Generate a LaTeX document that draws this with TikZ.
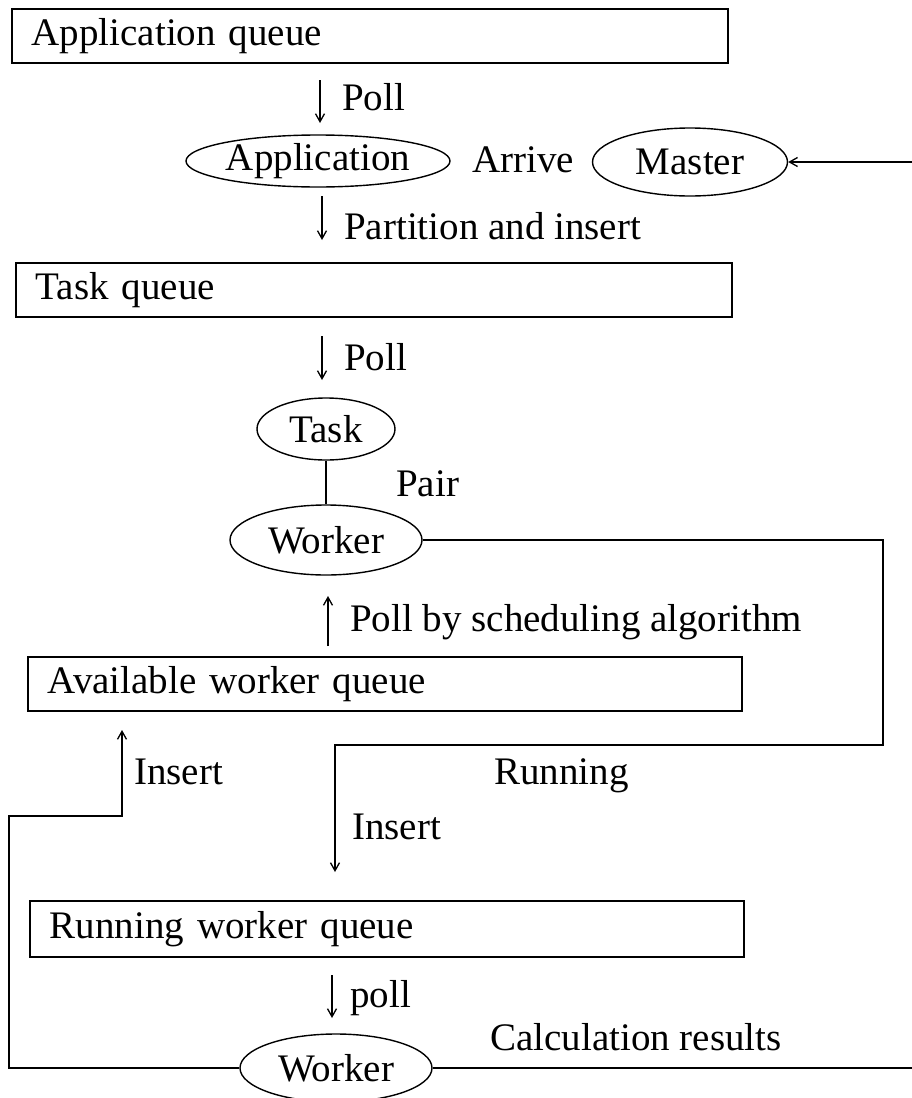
\documentclass[tikz,border=0pt]{standalone}
\usepackage{fontspec}
\setmainfont{Liberation Serif}
\usetikzlibrary{shapes.geometric,arrows.meta}
\begin{document}
\begin{tikzpicture}[x=1pt,y=-1pt,
  font=\fontsize{39}{44}\selectfont,
  queuebox/.style={draw,line width=1.6pt,anchor=north west,minimum height=54pt,
    inner xsep=20pt,inner ysep=0pt,text width=#1,align=left},
  oval/.style={draw,ellipse,line width=1.4pt,inner sep=0pt},
  lbl/.style={inner sep=0pt,anchor=west},
  conn/.style={line width=1.6pt},
  arr/.style={line width=1.3pt,-{Straight Barb[length=8pt,width=9pt]}}]
\useasboundingbox (0,0) rectangle (912,1098);

% queues
\node[queuebox=676pt] (aq) at (11,8) {Application queue};
\node[queuebox=676pt] (tq) at (15,262) {Task queue};
\node[queuebox=674pt] (awq) at (27,656) {Available worker queue};
\node[queuebox=674pt,minimum height=56pt] (rwq) at (29,900) {Running worker queue};

% ovals
\node[oval,minimum width=264pt,minimum height=52pt] (app) at (318,161) {Application};
\node[oval,minimum width=195pt,minimum height=68pt] (master) at (690,162) {Master};
\node[oval,minimum width=138pt,minimum height=62pt] (task) at (326,429) {Task};
\node[oval,minimum width=192pt,minimum height=70pt] (w1) at (326,540) {Worker};
\node[oval,minimum width=192pt,minimum height=68pt] (w2) at (336,1068) {Worker};

% free labels
\node[lbl] (arrive) at (472,160) {Arrive};
\node[lbl] (pair) at (396,484) {Pair};
\node[lbl] (running) at (494,776) {Running};
\node[lbl] (calc) at (490,1037) {Calculation results};

% short arrows with labels
\coordinate (a1s) at (320,80); \coordinate (a1e) at (320,123);
\draw[arr] (a1s) -- (a1e);
\node[lbl] (l1) at (342,97) {Poll};

\coordinate (a2s) at (322,196); \coordinate (a2e) at (322,240);
\draw[arr] (a2s) -- (a2e);
\node[lbl] (l2) at (344,226) {Partition and insert};

\coordinate (a3s) at (322,336); \coordinate (a3e) at (322,380);
\draw[arr] (a3s) -- (a3e);
\node[lbl] (l3) at (344,357) {Poll};

\draw[conn] (task.south) -- (task.south |- w1.north);

\coordinate (a4s) at (328,646); \coordinate (a4e) at (328,596);
\draw[arr] (a4s) -- (a4e);
\node[lbl] (l4) at (350,622) {Poll by scheduling algorithm};

\coordinate (a5s) at (332,975); \coordinate (a5e) at (332,1018);
\draw[arr] (a5s) -- (a5e);
\node[lbl] (l5) at (350,998) {poll};

% running loop
\coordinate (r1) at (883,540);
\coordinate (r2) at (883,745);
\coordinate (r3) at (335,745);
\coordinate (r4) at (335,872);
\draw[conn] (w1.east) -- (r1) -- (r2) -- (r3) -- (335,860);
\draw[arr] (335,850) -- (r4);
\node[lbl] (l6) at (352,827) {Insert};

% results loop
\coordinate (b1) at (9,1068);
\coordinate (b2) at (9,816);
\coordinate (b3) at (122,816);
\coordinate (b4) at (122,730);
\draw[conn] (w2.west) -- (b1) -- (b2) -- (b3) -- (122,760);
\draw[arr] (122,770) -- (b4);
\node[lbl] (l7) at (134,772) {Insert};

\coordinate (e1) at (912,1068);
\draw[conn] (w2.east) -- (e1);
\coordinate (e2) at (912,162);
\draw[arr] (e2) -- (master.east);
\end{tikzpicture}
\end{document}
